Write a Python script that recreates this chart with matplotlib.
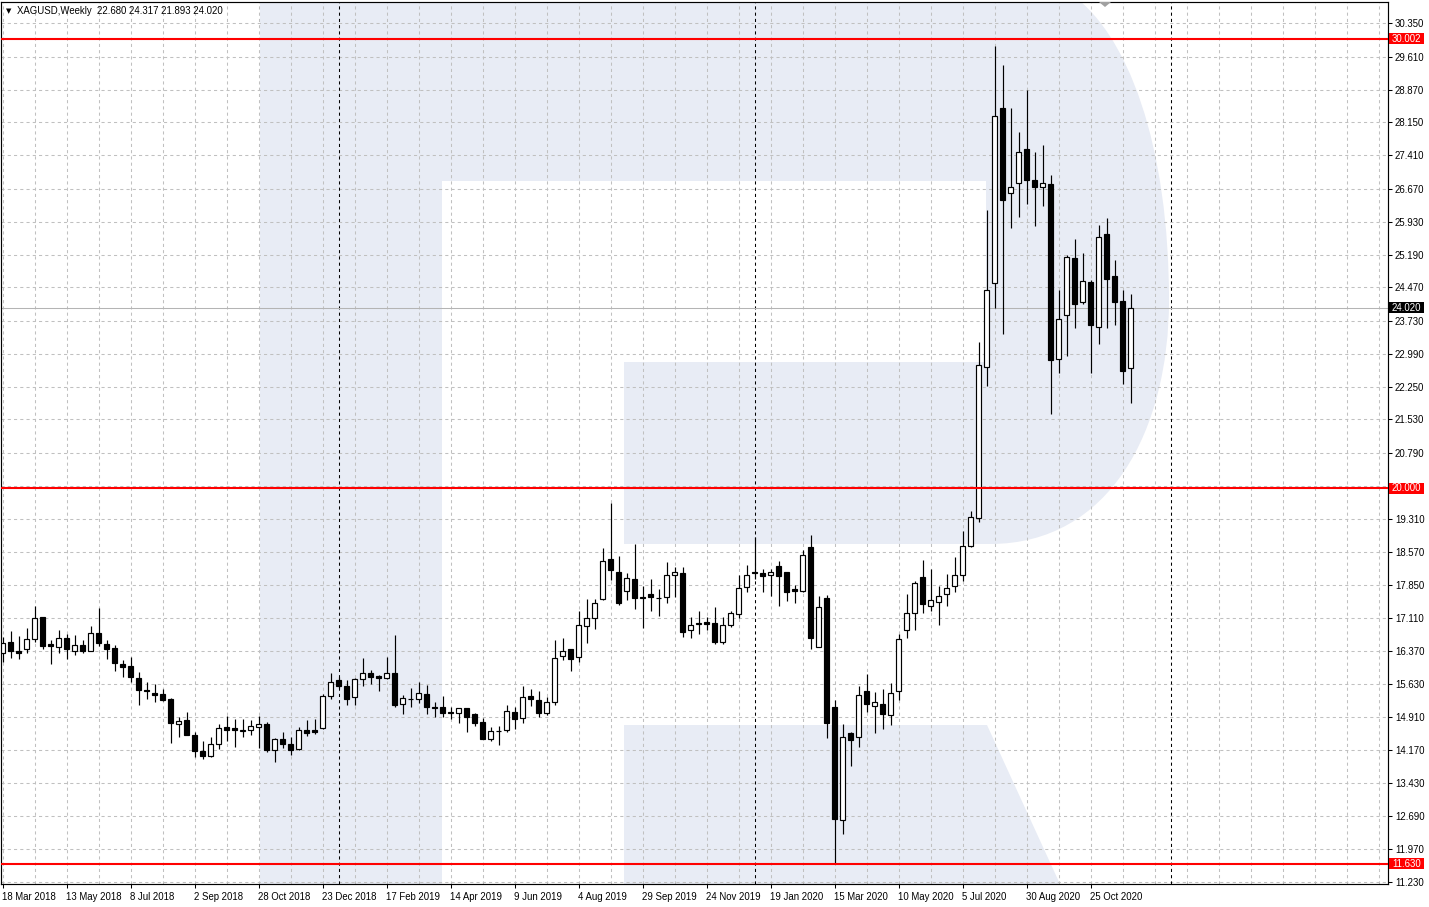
import matplotlib
matplotlib.use("Agg")
import matplotlib.pyplot as plt
from matplotlib.path import Path
from matplotlib.patches import PathPatch, Polygon, Rectangle
import matplotlib.transforms as mtransforms

plt.rcParams['font.family'] = ['Liberation Sans', 'DejaVu Sans']

# ---------------- data ----------------
title_text = "XAGUSD,Weekly  22.680 24.317 21.893 24.020"

opens = [16.32, 16.56, 16.37, 16.41, 16.63, 17.12, 16.53, 16.47, 16.65, 16.38,
         16.50, 16.38, 16.76, 16.53, 16.43, 16.07, 16.04, 15.76, 15.50, 15.43,
         15.41, 15.30, 14.74, 14.83, 14.50, 14.14, 14.04, 14.29, 14.67, 14.65,
         14.58, 14.62, 14.68, 14.74, 14.16, 14.41, 14.29, 14.18, 14.61, 14.61,
         14.65, 15.37, 15.72, 15.59, 15.34, 15.74, 15.89, 15.81, 15.76, 15.89,
         15.18, 15.31, 15.30, 15.41, 15.13, 15.12, 15.01, 15.00, 15.09, 14.96,
         14.78, 14.40, 14.58, 14.60, 15.01, 14.87, 15.36, 15.27, 14.99, 15.23,
         16.26, 16.41, 16.23, 16.93, 17.10, 17.53, 18.43, 18.12, 17.70, 17.97,
         17.57, 17.63, 17.55, 17.57, 18.06, 18.10, 16.84, 16.98, 17.01, 16.99,
         16.56, 16.95, 17.19, 17.79, 18.14, 18.10, 18.06, 18.26, 18.13, 17.75,
         17.71, 18.68, 16.47, 17.54, 15.13, 12.61, 14.54, 14.45, 15.47, 15.15,
         15.20, 14.94, 15.49, 16.84, 17.21, 18.01, 17.37, 17.46, 17.65, 17.82,
         18.06, 18.71, 19.33, 22.70, 24.56, 28.46, 26.56, 26.80, 27.55, 26.86,
         26.70, 26.77, 22.88, 23.86, 25.12, 24.15, 24.59, 23.58, 25.66, 24.72,
         24.17, 22.68]
highs = [16.69, 16.82, 16.70, 16.88, 17.38, 17.13, 16.62, 16.84, 16.75, 16.73,
         16.62, 16.93, 17.32, 16.62, 16.50, 16.17, 16.23, 15.90, 15.67, 15.64,
         15.52, 15.33, 14.91, 15.02, 14.57, 14.37, 14.46, 14.74, 14.92, 14.86,
         14.86, 14.83, 14.92, 14.78, 14.43, 14.56, 14.45, 14.67, 14.83, 14.86,
         15.41, 15.87, 15.78, 15.72, 15.76, 16.22, 15.95, 15.83, 16.24, 16.73,
         15.39, 15.54, 15.67, 15.61, 15.24, 15.37, 15.12, 15.10, 15.10, 14.98,
         14.87, 14.67, 14.71, 15.17, 15.13, 15.58, 15.52, 15.48, 15.34, 16.62,
         16.66, 16.42, 17.26, 17.53, 17.53, 18.66, 19.67, 18.49, 18.10, 18.75,
         17.82, 17.97, 17.75, 18.35, 18.25, 18.23, 17.13, 17.26, 17.13, 17.34,
         17.13, 17.26, 18.06, 18.29, 18.90, 18.20, 18.19, 18.38, 18.14, 17.85,
         18.62, 18.95, 17.60, 17.61, 15.28, 14.75, 14.57, 15.58, 15.85, 15.45,
         15.52, 15.65, 16.75, 17.64, 17.93, 18.40, 18.19, 17.82, 18.09, 18.47,
         19.04, 19.49, 23.26, 26.19, 29.85, 29.42, 28.46, 27.92, 28.86, 27.48,
         27.64, 26.97, 24.41, 25.19, 25.55, 25.23, 24.63, 25.86, 26.01, 25.08,
         24.41, 24.317]
lows = [16.13, 16.22, 16.19, 16.33, 16.56, 16.42, 16.07, 16.32, 16.19, 16.27,
        16.32, 16.36, 16.49, 16.19, 15.93, 15.78, 15.69, 15.17, 15.30, 15.24,
        15.26, 14.33, 14.46, 14.49, 14.02, 13.96, 14.02, 14.18, 14.37, 14.24,
        14.46, 14.50, 14.22, 14.11, 13.90, 14.20, 14.05, 14.17, 14.48, 14.52,
        14.64, 15.30, 15.54, 15.17, 15.17, 15.60, 15.63, 15.49, 15.75, 15.13,
        14.97, 15.13, 15.22, 14.97, 14.91, 14.91, 14.85, 14.76, 14.57, 14.71,
        14.40, 14.37, 14.28, 14.57, 14.63, 14.77, 15.15, 14.91, 14.95, 15.17,
        16.17, 15.93, 16.13, 16.54, 16.85, 17.51, 17.95, 17.40, 17.51, 17.30,
        16.89, 17.27, 17.15, 17.43, 17.58, 16.69, 16.65, 16.75, 16.84, 16.53,
        16.53, 16.90, 17.11, 17.69, 17.97, 17.69, 17.60, 17.38, 17.49, 17.45,
        17.69, 16.41, 16.45, 14.44, 11.63, 12.29, 13.81, 14.24, 15.02, 14.55,
        14.63, 14.72, 15.28, 16.67, 16.84, 17.22, 17.27, 16.96, 17.38, 17.69,
        17.93, 18.68, 19.25, 22.27, 24.00, 23.42, 25.80, 26.04, 26.33, 25.84,
        26.28, 21.65, 22.57, 22.95, 23.57, 24.09, 22.57, 23.21, 23.57, 23.63,
        22.32, 21.893]
closes = [16.54, 16.36, 16.33, 16.63, 17.10, 16.49, 16.49, 16.65, 16.42, 16.50,
          16.38, 16.76, 16.54, 16.42, 16.10, 16.02, 15.80, 15.50, 15.47, 15.40,
          15.28, 14.77, 14.81, 14.51, 14.15, 14.04, 14.29, 14.65, 14.62, 14.60,
          14.62, 14.69, 14.74, 14.16, 14.41, 14.29, 14.16, 14.61, 14.55, 14.57,
          15.36, 15.67, 15.58, 15.30, 15.75, 15.89, 15.80, 15.76, 15.89, 15.17,
          15.32, 15.30, 15.43, 15.13, 15.11, 14.98, 14.98, 15.09, 14.91, 14.77,
          14.42, 14.58, 14.59, 15.03, 14.86, 15.34, 15.31, 14.99, 15.23, 16.21,
          16.38, 16.20, 16.96, 17.10, 17.43, 18.37, 18.17, 17.45, 17.99, 17.54,
          17.54, 17.57, 17.54, 18.06, 18.12, 16.80, 16.96, 16.99, 16.97, 16.58,
          16.95, 17.21, 17.77, 18.06, 18.10, 18.03, 18.12, 18.05, 17.69, 17.71,
          18.51, 16.67, 17.34, 14.76, 12.62, 14.46, 14.38, 15.38, 15.19, 15.24,
          14.96, 15.44, 16.63, 17.21, 17.88, 17.41, 17.50, 17.59, 17.77, 18.06,
          18.71, 19.35, 22.75, 24.41, 28.29, 26.42, 26.70, 27.48, 26.86, 26.71,
          26.79, 22.85, 23.76, 25.14, 24.10, 24.61, 23.64, 25.60, 24.65, 24.15,
          22.61, 24.02]

x_tick_bars = [0, 8, 16, 24, 32, 40, 48, 56, 64, 72, 80, 88, 96, 104, 112, 120, 128, 136]
x_tick_labels = ["18 Mar 2018", "13 May 2018", "8 Jul 2018", "2 Sep 2018", "28 Oct 2018",
                 "23 Dec 2018", "17 Feb 2019", "14 Apr 2019", "9 Jun 2019", "4 Aug 2019",
                 "29 Sep 2019", "24 Nov 2019", "19 Jan 2020", "15 Mar 2020", "10 May 2020",
                 "5 Jul 2020", "30 Aug 2020", "25 Oct 2020"]
y_grid_values = [11.230, 11.970, 12.690, 13.430, 14.170, 14.910, 15.630, 16.370, 17.110,
                 17.850, 18.570, 19.310, 20.050, 20.790, 21.530, 22.250, 22.990, 23.730,
                 24.470, 25.190, 25.930, 26.670, 27.410, 28.150, 28.870, 29.610, 30.350]
y_tick_labels = ["11.230", "11.970", "12.690", "13.430", "14.170", "14.910", "15.630",
                 "16.370", "17.110", "17.850", "18.570", "19.310", "", "20.790", "21.530",
                 "22.250", "22.990", "23.730", "24.470", "25.190", "25.930", "26.670",
                 "27.410", "28.150", "28.870", "29.610", "30.350"]
levels = [30.002, 20.000, 11.630]
level_labels = ["30.002", "20.000", "11.630"]
last_price = 24.020
last_label = "24.020"
separator_bars = [42, 94, 146]

# ---------------- figure ----------------
W, H = 1429, 907
fig = plt.figure(figsize=(W / 100, H / 100), dpi=100)
fig.patch.set_facecolor("white")

ax_left_px, ax_right_px, ax_top_px, ax_bot_px = 1, 1388, 2, 884
ax = fig.add_axes([ax_left_px / W, (H - ax_bot_px) / H,
                   (ax_right_px - ax_left_px) / W, (ax_bot_px - ax_top_px) / H])
ax.set_xlim(-0.2125, 173.16)
ax.set_ylim(11.181, 30.824)


def px(x, y):
    return (x / W, 1 - y / H)


# watermark "R" logo
wm_color = "#e8ecf5"
verts = [px(260, -10), px(1065, -10),
         px(1130, 30), px(1169, 150), px(1169, 300),
         px(1169, 430), px(1110, 544), px(990, 544),
         px(624, 544), px(624, 362), px(986, 362), px(986, 181),
         px(442, 181), px(442, 895), px(260, 895), px(260, -10)]
codes = [Path.MOVETO, Path.LINETO,
         Path.CURVE4, Path.CURVE4, Path.CURVE4,
         Path.CURVE4, Path.CURVE4, Path.CURVE4,
         Path.LINETO, Path.LINETO, Path.LINETO, Path.LINETO,
         Path.LINETO, Path.LINETO, Path.LINETO, Path.CLOSEPOLY]
ax.add_patch(PathPatch(Path(verts, codes), transform=fig.transFigure,
                       facecolor=wm_color, edgecolor="none", zorder=0.1))
ax.add_patch(Polygon([px(624, 725), px(987, 725), px(1065, 895), px(624, 895)],
                     closed=True, transform=fig.transFigure,
                     facecolor=wm_color, edgecolor="none", zorder=0.1))

# grid
grid_kw = dict(color="#c0c0c0", lw=0.75, linestyle=(0, (3, 3)), zorder=0.5)
for v in y_grid_values:
    ax.axhline(v, **grid_kw)
for b in range(0, 174, 4):
    ax.axvline(b, **grid_kw)

# period separators
for b in separator_bars:
    ax.axvline(b, color="black", lw=0.75, linestyle=(0, (3, 3)), zorder=0.6)

# last price line
ax.axhline(last_price, color="#b4b4b4", lw=0.75, zorder=0.7)

# level lines
for lv in levels:
    ax.axhline(lv, color="#ff0000", lw=1.5, zorder=3)

# candles
n = len(opens)
xs = list(range(n))
ax.vlines(xs, lows, highs, color="black", lw=0.85, zorder=2)
bottoms = [min(o, c) for o, c in zip(opens, closes)]
heights = [abs(c - o) for o, c in zip(opens, closes)]
face = ["white" if c >= o else "black" for o, c in zip(opens, closes)]
ax.bar(xs, heights, bottom=bottoms, width=0.58, color=face, edgecolor="black",
       linewidth=0.85, zorder=2.5)

# axes styling
for s in ax.spines.values():
    s.set_color("black")
    s.set_linewidth(0.85)
ax.yaxis.tick_right()
ax.set_yticks(y_grid_values)
ax.set_yticklabels(y_tick_labels)
ax.tick_params(axis="y", direction="out", length=3, width=0.75, color="black",
               labelsize=6.9, pad=2, labelcolor="black")
ax.set_xticks(x_tick_bars)
ax.set_xticklabels(x_tick_labels)
ax.tick_params(axis="x", direction="out", length=3, width=0.75, color="black",
               labelsize=6.9, pad=2.5, labelcolor="black")
offset = mtransforms.ScaledTranslation(-1 / 100, 0, fig.dpi_scale_trans)
for lab in ax.get_xticklabels():
    lab.set_horizontalalignment("left")
    lab.set_transform(lab.get_transform() + offset)

# price labels on the right
blend = mtransforms.blended_transform_factory(ax.transAxes, ax.transData)
box_w = 35 / (ax_right_px - ax_left_px)
box_h = 11 / 44.9
for lv, txt, col in list(zip(levels, level_labels, ["#ff0000"] * 3)) + [(last_price, last_label, "black")]:
    ax.add_patch(Rectangle((1.0008, lv - box_h / 2), box_w, box_h, transform=blend,
                           facecolor=col, edgecolor="none", clip_on=False, zorder=5))
    ax.text(1.0008 + box_w / 2, lv, txt, transform=blend, ha="center", va="center",
            color="white", fontsize=6.9, clip_on=False, zorder=6)

# chart shift marker
fig.patches.append(Polygon([px(1099, 2), px(1111, 2), px(1105, 7)], closed=True,
                           transform=fig.transFigure, facecolor="#a0a0a0",
                           edgecolor="none", zorder=5))

# title
fig.text(6 / W, 1 - 11 / H, "\u25BC", fontsize=5, color="black", va="center", ha="left",
         family=["DejaVu Sans"])
fig.text(17 / W, 1 - 11 / H, title_text, fontsize=6.9, color="black", va="center", ha="left")

fig.savefig("out.png", dpi=100, facecolor="white")
